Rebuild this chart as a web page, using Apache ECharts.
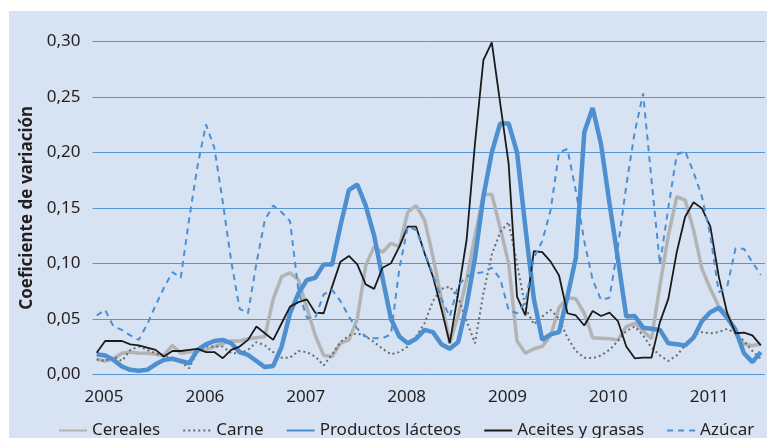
<!DOCTYPE html>
<html>
<head>
<meta charset="utf-8">
<script src="https://cdn.jsdelivr.net/npm/echarts@6/dist/echarts.min.js"></script>
<style>
html,body{margin:0;padding:0;background:#ffffff;}
#wrap{position:relative;width:767px;height:438px;overflow:hidden;}
#bg{position:absolute;left:9px;top:11px;right:0;bottom:0;background:#d7e3f3;}
#chart{position:absolute;left:0;top:0;width:767px;height:438px;}
</style>
</head>
<body>
<div id="wrap"><div id="bg"></div><div id="chart"></div></div>
<script>
// Monthly data, January 2005 - August 2011 (80 months)
const yearLabels = ['2005','2006','2007','2008','2009','2010','2011'];

const cereales = [0.0135,0.012,0.014,0.019,0.020,0.019,0.019,0.018,0.017,0.026,0.019,0.020,
  0.021,0.022,0.025,0.028,0.030,0.030,0.032,0.033,0.034,0.068,0.088,0.0915,
  0.085,0.060,0.035,0.017,0.016,0.028,0.031,0.050,0.098,0.115,0.110,0.118,
  0.115,0.146,0.152,0.139,0.106,0.068,0.028,0.053,0.085,0.125,0.162,0.162,
  0.132,0.100,0.030,0.019,0.023,0.025,0.035,0.060,0.069,0.068,0.055,0.033,
  0.0325,0.032,0.031,0.043,0.046,0.039,0.032,0.080,0.125,0.160,0.157,0.130,
  0.095,0.077,0.061,0.055,0.037,0.027,0.026,0.027];

const carne = [0.0135,0.012,0.016,0.012,0.022,0.025,0.022,0.019,0.016,0.015,0.011,0.0055,
  0.021,0.025,0.025,0.025,0.019,0.019,0.022,0.029,0.026,0.020,0.015,0.015,
  0.021,0.020,0.016,0.008,0.018,0.029,0.035,0.037,0.034,0.029,0.023,0.018,
  0.020,0.025,0.034,0.046,0.066,0.077,0.079,0.069,0.048,0.028,0.073,0.108,
  0.128,0.137,0.100,0.060,0.045,0.052,0.058,0.050,0.033,0.021,0.015,0.0145,
  0.017,0.022,0.030,0.039,0.043,0.035,0.024,0.017,0.012,0.017,0.026,0.035,
  0.038,0.037,0.038,0.041,0.037,0.030,0.021,0.014];

const lacteos = [0.018,0.017,0.013,0.007,0.004,0.0033,0.004,0.009,0.013,0.014,0.012,0.010,
  0.022,0.027,0.030,0.031,0.028,0.020,0.0174,0.012,0.0065,0.0075,0.025,0.055,
  0.073,0.085,0.087,0.099,0.099,0.134,0.166,0.171,0.152,0.125,0.087,0.050,
  0.034,0.028,0.032,0.040,0.038,0.027,0.023,0.029,0.062,0.105,0.160,0.200,
  0.226,0.226,0.200,0.132,0.068,0.031,0.036,0.038,0.070,0.105,0.218,0.240,
  0.207,0.154,0.104,0.052,0.0525,0.042,0.041,0.040,0.028,0.027,0.026,0.033,
  0.048,0.056,0.060,0.051,0.040,0.019,0.011,0.020];

const aceites = [0.0195,0.030,0.030,0.030,0.027,0.026,0.024,0.022,0.016,0.021,0.021,0.022,
  0.023,0.020,0.020,0.0145,0.022,0.025,0.031,0.043,0.037,0.031,0.046,0.061,
  0.065,0.0675,0.0555,0.055,0.079,0.1015,0.1066,0.099,0.081,0.077,0.096,0.100,
  0.115,0.133,0.133,0.109,0.088,0.059,0.028,0.073,0.121,0.208,0.283,0.299,
  0.244,0.190,0.070,0.053,0.111,0.110,0.1015,0.089,0.055,0.053,0.044,0.057,
  0.0525,0.0555,0.048,0.025,0.0144,0.015,0.015,0.047,0.068,0.110,0.142,0.155,
  0.1495,0.133,0.088,0.055,0.037,0.0375,0.035,0.026];

const azucar = [0.053,0.058,0.043,0.040,0.035,0.031,0.045,0.062,0.078,0.092,0.087,0.140,
  0.188,0.225,0.204,0.155,0.102,0.059,0.055,0.100,0.139,0.152,0.146,0.138,
  0.075,0.051,0.051,0.072,0.076,0.066,0.052,0.041,0.034,0.0325,0.0325,0.036,
  0.095,0.133,0.130,0.110,0.090,0.068,0.052,0.080,0.088,0.091,0.092,0.096,
  0.086,0.058,0.055,0.065,0.105,0.120,0.148,0.200,0.203,0.165,0.120,0.085,
  0.067,0.069,0.115,0.170,0.218,0.253,0.175,0.099,0.150,0.198,0.201,0.182,
  0.160,0.125,0.074,0.079,0.1135,0.113,0.101,0.0895];

const seriesNames = ['Cereales','Carne','Productos lácteos','Aceites y grasas','Azúcar'];

const FONT = 'Noto Sans';
const labelOffset = 0.87;
const toPairs = arr => arr.map((v, i) => [i, v]);

const chart = echarts.init(document.getElementById('chart'), null, {renderer: 'canvas'});
chart.setOption({
  backgroundColor: 'transparent',
  animation: false,
  grid: {left: 92.5, right: 2, top: 41.3, bottom: 63.7, containLabel: false},
  xAxis: {
    type: 'value',
    min: -0.5,
    max: 79.5,
    axisLine: {show: false},
    axisTick: {show: false},
    splitLine: {show: false},
    axisLabel: {
      customValues: yearLabels.map((y, k) => labelOffset + 12 * k),
      formatter: v => yearLabels[Math.round((v - labelOffset) / 12)],
      color: '#231f20',
      fontFamily: FONT,
      fontSize: 17,
      margin: 14
    }
  },
  yAxis: {
    type: 'value',
    min: 0,
    max: 0.3,
    interval: 0.05,
    name: 'Coeficiente de variación',
    nameLocation: 'middle',
    nameGap: 55,
    nameTextStyle: {fontFamily: FONT, fontSize: 17, fontWeight: 'bold', color: '#231f20'},
    axisLine: {show: false},
    axisTick: {show: false},
    splitLine: {lineStyle: {color: '#5597d4', width: 1}},
    axisLabel: {
      formatter: v => v.toFixed(2).replace('.', ','),
      color: '#231f20',
      fontFamily: FONT,
      fontSize: 17,
      margin: 12
    }
  },
  legend: {
    left: 58,
    top: 422,
    width: 709,
    padding: 0,
    itemWidth: 28,
    itemHeight: 14,
    itemGap: 22,
    itemStyle: {opacity: 0},
    textStyle: {fontFamily: FONT, fontSize: 17, color: '#231f20'},
    data: seriesNames
  },
  series: [
    {name: seriesNames[0], type: 'line', symbol: 'none', data: toPairs(cereales),
      lineStyle: {color: '#b3b3b3', width: 3.5}, itemStyle: {color: '#b3b3b3'}},
    {name: seriesNames[1], type: 'line', symbol: 'none', data: toPairs(carne),
      lineStyle: {color: '#6a6a6a', width: 2, type: [2, 3]}, itemStyle: {color: '#6a6a6a'}},
    {name: seriesNames[2], type: 'line', symbol: 'none', data: toPairs(lacteos),
      lineStyle: {color: '#4d8fcf', width: 4.5}, itemStyle: {color: '#4d8fcf'}},
    {name: seriesNames[3], type: 'line', symbol: 'none', data: toPairs(aceites),
      lineStyle: {color: '#1a1a1a', width: 1.8}, itemStyle: {color: '#1a1a1a'}},
    {name: seriesNames[4], type: 'line', symbol: 'none', data: toPairs(azucar),
      lineStyle: {color: '#4d8fd3', width: 2, type: [6, 5]}, itemStyle: {color: '#4d8fd3'}}
  ]
});
</script>
</body>
</html>
